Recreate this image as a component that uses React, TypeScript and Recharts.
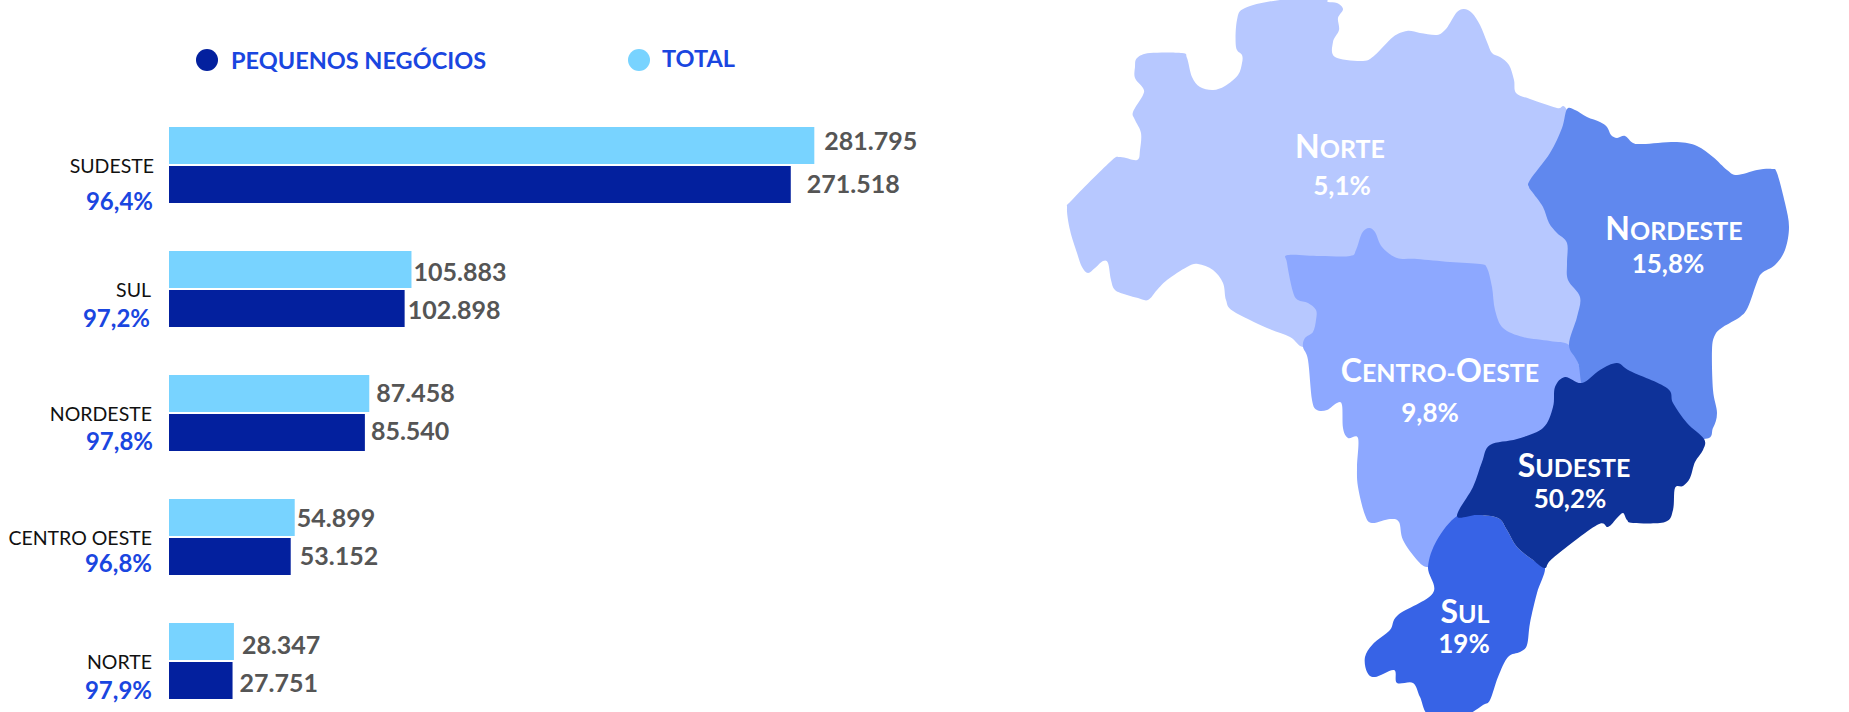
import { Bar, BarChart, LabelList, Legend, XAxis, YAxis } from "recharts"

const regions = ["SUDESTE", "SUL", "NORDESTE", "CENTRO OESTE", "NORTE"]
const totalValues = [281795, 105883, 87458, 54899, 28347]
const smallBizValues = [271518, 102898, 85540, 53152, 27751]
const smallBizShare = ["96,4%", "97,2%", "97,8%", "96,8%", "97,9%"]

const mapRegions = ["Norte", "Centro-Oeste", "Nordeste", "Sul", "Sudeste"]
const mapShares = ["5,1%", "9,8%", "15,8%", "19%", "50,2%"]

const chartData = regions.map((region, i) => ({
  region,
  total: totalValues[i],
  smallBiz: smallBizValues[i],
}))

const LIGHT = "#78d3ff"
const DARK = "#03209e"
const BLUE = "#1a46e0"
const GREY = "#555555"
const FONT = "Lato, sans-serif"

// the labels in the original were placed by hand, so each one gets its own nudge
const totalNudge = [[10, -6], [2, 1], [7, -2], [2, -1], [8, 2]]
const smallBizNudge = [[16, -2], [3, 0], [6, -3], [9, -2], [7, 1]]
const nameRight = [154, 151, 152, 152, 152]
const shareRight = [153, 150, 153, 152, 152]
const shareDy = [35, 28, 27, 25, 28]

// hand traced outlines of the map, drawn back to front
const outlines: number[][][] = [
  [[1237,20],[1245,8],[1280,0],[1323,-1],[1328,2],[1337,3],[1343,9],[1338,18],[1339,30],[1333,42],[1335,57],[1363,61],[1375,55],[1393,37],[1407,31],[1420,33],[1437,35],[1445,30],[1450,23],[1457,12],[1464,9],[1472,13],[1480,25],[1487,42],[1492,53],[1500,57],[1509,65],[1514,80],[1516,93],[1530,99],[1557,108],[1567,110],[1590,160],[1600,250],[1590,360],[1450,350],[1320,340],[1303,347],[1290,337],[1267,328],[1233,311],[1226,300],[1223,283],[1213,270],[1198,264],[1187,267],[1167,280],[1157,290],[1148,300],[1138,298],[1127,295],[1115,290],[1111,280],[1108,263],[1103,261],[1095,268],[1088,273],[1082,267],[1077,253],[1070,230],[1067,208],[1072,200],[1110,162],[1120,157],[1137,160],[1140,150],[1141,133],[1135,120],[1133,112],[1143,95],[1143,88],[1135,78],[1135,67],[1137,58],[1150,53],[1182,53],[1187,58],[1192,77],[1200,87],[1213,90],[1225,86],[1238,75],[1242,63],[1242,55],[1236,47]],
  [[1288,255],[1320,256],[1350,256],[1356,250],[1362,233],[1369,228],[1375,232],[1382,247],[1397,258],[1417,259],[1450,262],[1480,264],[1487,268],[1492,287],[1495,310],[1503,328],[1523,337],[1550,341],[1569,345],[1578,363],[1582,383],[1570,420],[1500,490],[1470,540],[1445,565],[1427,567],[1417,560],[1403,540],[1399,522],[1390,519],[1372,523],[1365,515],[1358,487],[1357,467],[1358,438],[1348,438],[1343,428],[1342,405],[1337,403],[1327,410],[1317,410],[1312,400],[1308,360],[1303,347],[1305,338],[1313,332],[1316,320],[1316,310],[1308,303],[1298,300],[1293,292],[1287,263]],
  [[1567,109],[1575,110],[1587,117],[1600,122],[1607,127],[1611,135],[1617,138],[1625,136],[1633,143],[1643,144],[1677,142],[1697,146],[1713,157],[1727,170],[1737,175],[1757,170],[1772,169],[1777,173],[1785,203],[1789,227],[1785,250],[1775,265],[1762,273],[1757,282],[1748,307],[1740,317],[1723,327],[1715,335],[1712,350],[1713,390],[1717,413],[1713,428],[1704,439],[1650,430],[1590,400],[1578,363],[1569,345],[1577,317],[1580,297],[1568,280],[1567,263],[1567,243],[1557,233],[1549,223],[1543,207],[1533,193],[1529,187],[1530,180],[1550,153],[1562,128]],
  [[1457,516],[1477,515],[1498,518],[1507,530],[1517,547],[1533,560],[1545,568],[1537,593],[1530,623],[1527,645],[1520,652],[1508,657],[1498,677],[1490,700],[1483,705],[1463,716],[1430,716],[1420,697],[1413,683],[1397,683],[1394,670],[1375,677],[1367,672],[1365,657],[1373,644],[1390,630],[1398,615],[1433,593],[1428,567],[1437,540]],
  [[1582,383],[1600,370],[1617,363],[1630,371],[1667,388],[1673,403],[1687,423],[1704,439],[1703,450],[1695,462],[1690,478],[1683,486],[1675,488],[1673,510],[1665,522],[1633,523],[1627,520],[1623,513],[1617,518],[1608,527],[1597,525],[1553,558],[1545,568],[1533,560],[1517,547],[1507,530],[1498,518],[1477,515],[1457,516],[1473,487],[1482,462],[1490,445],[1517,439],[1543,428],[1553,407],[1555,387],[1565,377]],
]
const regionColors = ["#b7c8ff", "#8da8ff", "#6088ee", "#3763e6", "#0e3299"]

// [center x, name baseline, share center x, share baseline]
const mapTextPos = [
  [1340, 158, 1342, 195],
  [1440, 382, 1430, 422],
  [1674, 240, 1668, 273],
  [1465, 623, 1464, 653],
  [1574, 477, 1570, 508],
]

const smoothPath = (pts: number[][]) => {
  const n = pts.length
  let d = `M${pts[0][0]},${pts[0][1]}`
  for (let i = 0; i < n; i++) {
    const p0 = pts[(i - 1 + n) % n]
    const p1 = pts[i]
    const p2 = pts[(i + 1) % n]
    const p3 = pts[(i + 2) % n]
    const c1x = p1[0] + (p2[0] - p0[0]) / 6
    const c1y = p1[1] + (p2[1] - p0[1]) / 6
    const c2x = p2[0] - (p3[0] - p1[0]) / 6
    const c2y = p2[1] - (p3[1] - p1[1]) / 6
    d += `C${c1x},${c1y} ${c2x},${c2y} ${p2[0]},${p2[1]}`
  }
  return d + "Z"
}

// capitals at full size, the rest as larger small caps than the browser would fake
const SmallCaps = ({ text }: { text: string }) => (
  <>
    {text.split(/(?=[A-Z])/).map((part) => (
      <tspan key={part}>
        <tspan fontSize={32}>{part[0]}</tspan>
        <tspan fontSize={25} style={{ textTransform: "uppercase" }}>{part.slice(1)}</tspan>
      </tspan>
    ))}
  </>
)

const BrazilMap = () => (
  <svg width={1849} height={712} style={{ position: "absolute", left: 0, top: 0 }}>
    {outlines.map((pts, i) => (
      <path key={mapRegions[i]} d={smoothPath(pts)} fill={regionColors[i]} />
    ))}
    {mapRegions.map((name, i) => {
      const [nx, ny, sx, sy] = mapTextPos[i]
      return (
        <g key={name} fill="#ffffff" fontFamily={FONT} fontWeight={700} textAnchor="middle">
          <text x={nx} y={ny}><SmallCaps text={name} /></text>
          <text x={sx} y={sy} fontSize={26}>{mapShares[i]}</text>
        </g>
      )
    })}
  </svg>
)

const RegionTick = ({ y, payload, index }: any) => (
  <g fontFamily={FONT} textAnchor="end" dominantBaseline="central">
    <text x={nameRight[index]} y={y} fontSize={19.5} fill="#111111">{payload.value}</text>
    <text x={shareRight[index]} y={y + shareDy[index]} fontSize={24} fontWeight={700} fill={BLUE}>
      {smallBizShare[index]}
    </text>
  </g>
)

const valueLabel = (nudge: number[][]) => (props: any) => {
  const { x, y, width, height, value, index } = props
  return (
    <text
      x={x + width + nudge[index][0]}
      y={y + height / 2 + nudge[index][1]}
      fontFamily={FONT}
      fontSize={25}
      fontWeight={700}
      fill={GREY}
      dominantBaseline="central"
    >
      {value.toLocaleString("de-DE")}
    </text>
  )
}

const legendSpots: Record<string, number[]> = {
  "PEQUENOS NEGÓCIOS": [207, 60, 231, 60],
  TOTAL: [639, 60, 662, 58],
}

const LegendContent = ({ payload }: any) => (
  <div style={{ position: "relative", height: 0 }}>
    {(payload || []).map((item: any) => {
      const [cx, cy, tx, ty] = legendSpots[item.value]
      return (
        <div key={item.value}>
          <div style={{ position: "absolute", left: cx - 11, top: cy - 11, width: 22, height: 22, borderRadius: "50%", background: item.color }} />
          <div style={{ position: "absolute", left: tx, top: ty - 15, lineHeight: "30px", fontFamily: FONT, fontSize: 23.5, fontWeight: 700, color: BLUE, whiteSpace: "nowrap" }}>
            {item.value}
          </div>
        </div>
      )
    })}
  </div>
)

export default function App() {
  return (
    <div style={{ position: "absolute", left: 0, top: 0, width: 1849, height: 712, overflow: "hidden", background: "#fff" }}>
      <BarChart
        width={956}
        height={723}
        data={chartData}
        layout="vertical"
        margin={{ top: 103, right: 100, bottom: 0, left: 0 }}
        barSize={37}
        barGap={2}
      >
        <XAxis type="number" hide domain={[0, 300000]} />
        <YAxis
          type="category"
          dataKey="region"
          width={169}
          axisLine={false}
          tickLine={false}
          interval={0}
          tick={<RegionTick />}
        />
        <Legend
          verticalAlign="top"
          content={<LegendContent />}
          wrapperStyle={{ left: 0, top: 0, margin: 0, width: 956 }}
        />
        <Bar dataKey="total" name="TOTAL" fill={LIGHT} isAnimationActive={false}>
          <LabelList dataKey="total" content={valueLabel(totalNudge)} />
        </Bar>
        <Bar dataKey="smallBiz" name="PEQUENOS NEGÓCIOS" fill={DARK} isAnimationActive={false}>
          <LabelList dataKey="smallBiz" content={valueLabel(smallBizNudge)} />
        </Bar>
      </BarChart>
      <BrazilMap />
    </div>
  )
}
